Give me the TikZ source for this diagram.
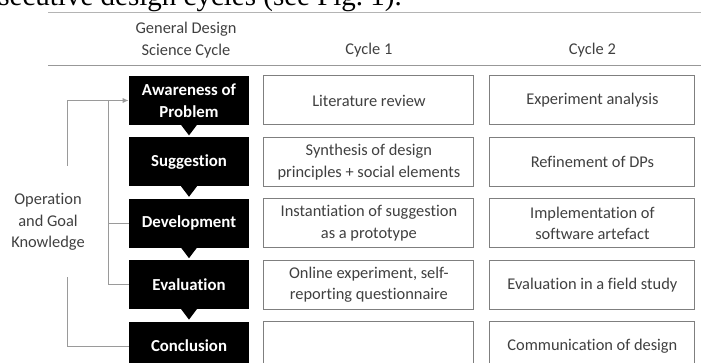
\documentclass[tikz,border=0pt]{standalone}
\usepackage{fontspec}
\setmainfont{Carlito}[Ligatures=CommonOff]
\newfontfamily\leadfont{Liberation Serif}
\usetikzlibrary{positioning,arrows.meta}
\definecolor{txtgray}{HTML}{404040}
\definecolor{rulegray}{HTML}{B4B4B4}
\definecolor{boxgray}{HTML}{7F7F7F}
\definecolor{linegray}{HTML}{9A9A9A}

\begin{document}
\begin{tikzpicture}[x=0.5pt, y=-0.5pt,
    every node/.style={font=\fontsize{8.2}{10.8}\selectfont, text=txtgray, align=center, inner sep=0pt},
    phase/.style={fill=black, text=white, font=\fontsize{8.4}{10.8}\selectfont\bfseries,
      minimum width=60pt, minimum height=24.5pt},
    task/.style={draw=boxgray, line width=0.5pt, fill=white, minimum height=24.5pt},
    cycle one/.style={task, minimum width=105pt},
    cycle two/.style={task, minimum width=102.5pt},
    bracket/.style={draw=linegray, line width=0.5pt},
    node distance=5.8pt]
  \useasboundingbox (0,0) rectangle (701,363);
  \clip (0,0) rectangle (701,363);

  \node[font=\leadfont\fontsize{14.5}{16}\selectfont, text=black, anchor=base west] (lead) at (-2,6)
    {secutive design cycles (see Fig.~1).};
  \draw[rulegray, line width=0.5pt] (48,13) -- (701,13);
  \draw[boxgray!80, line width=0.5pt] (48,66) -- (701,66);

  % phases of the cycle
  \node[phase] (aware) at (189,100.5) {Awareness of\\Problem};
  \node[phase, below=of aware] (sugg) {Suggestion};
  \node[phase, below=of sugg] (dev) {Development};
  \node[phase, below=of dev] (eval) {Evaluation};
  \node[phase, below=of eval] (conc) {Conclusion};
  \foreach \n in {aware,sugg,dev,eval}
    \fill ([xshift=-4pt,yshift=0.3pt]\n.south) -- ([xshift=4pt,yshift=0.3pt]\n.south) -- ([yshift=-5pt]\n.south) -- cycle;

  % cycle 1 and cycle 2
  \node[cycle one, right=7pt of aware] (litrev) {Literature review};
  \node[cycle one, right=7pt of sugg] (synth) {Synthesis of design\\principles + social elements};
  \node[cycle one, right=7pt of dev] (inst) {Instantiation of suggestion\\as a prototype};
  \node[cycle one, right=7pt of eval] (onexp) {Online experiment, self-\\reporting questionnaire};
  \node[cycle one, right=7pt of conc] (conc1) {};
  \node[cycle two, right=7.5pt of litrev] (expana) {Experiment analysis};
  \node[cycle two, right=7.5pt of synth] (refine) {Refinement of DPs};
  \node[cycle two, right=7.5pt of inst] (impl) {Implementation of\\software artefact};
  \node[cycle two, right=7.5pt of onexp] (field) {Evaluation in a field study};
  \node[cycle two, right=7.5pt of conc1] (comm) {Communication of design};

  \coordinate (hrow) at (0,50);
  \node (gendsc) at (186,40) {General Design\\Science Cycle};
  \node (hcyc1) at (litrev |- hrow) {Cycle 1};
  \node (hcyc2) at (expana |- hrow) {Cycle 2};

  % knowledge flowing back
  \node (know) at (48,222) {Operation\\and Goal\\Knowledge};
  \coordinate (outhi) at (67,166);
  \coordinate (outlo) at (67,277);
  \coordinate (inner) at (108,100.5);
  \draw[bracket, -{Latex[length=3pt,width=2.6pt]}] (outhi) |- (aware.west);
  \draw[bracket] (eval.west) -| (inner);
  \draw[bracket] (dev.west) -- (dev.west -| inner);
  \draw[bracket] (conc.west) -| (outlo);
\end{tikzpicture}
\end{document}
